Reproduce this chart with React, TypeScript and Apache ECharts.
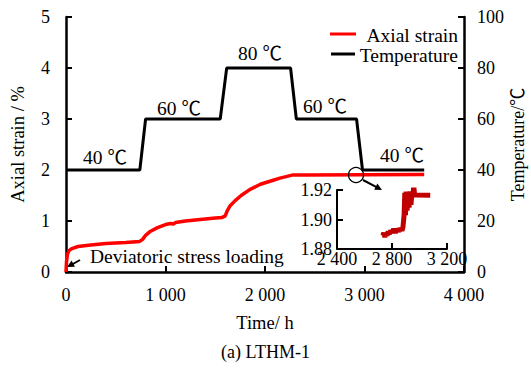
import React, { useEffect, useRef } from "react";
import * as echarts from "echarts";

// ---- data ----
const strainTime = [0, 5, 15, 30, 60, 120, 250, 400, 600, 740, 770, 800, 850, 920, 1000, 1050, 1080, 1100, 1200, 1300, 1400, 1500, 1570, 1600, 1620, 1650, 1700, 1760, 1850, 1954, 2050, 2150, 2273, 2400, 3000, 3600];
const strainValue = [0, 0.2, 0.35, 0.42, 0.46, 0.5, 0.53, 0.56, 0.58, 0.6, 0.64, 0.72, 0.8, 0.87, 0.93, 0.95, 0.94, 0.97, 1.0, 1.02, 1.04, 1.06, 1.07, 1.1, 1.2, 1.3, 1.4, 1.5, 1.62, 1.72, 1.78, 1.84, 1.9, 1.9, 1.905, 1.91];

const tempTime = [0, 742, 800, 1550, 1615, 2257, 2315, 2920, 2980, 3600];
const tempValue = [40, 40, 60, 60, 80, 80, 60, 60, 40, 40];

const insetTime = [2734, 2740, 2748, 2756, 2764, 2772, 2780, 2790, 2800, 2812, 2825, 2838, 2850, 2862, 2873, 2880, 2888, 2893, 2898, 2903, 2910, 2917, 2924, 2931, 2938, 2945, 2952, 2958, 2964, 2975, 3078];
const insetValue = [1.889, 1.891, 1.888, 1.891, 1.889, 1.892, 1.89, 1.8925, 1.891, 1.8935, 1.891, 1.8935, 1.892, 1.894, 1.8925, 1.895, 1.903, 1.918, 1.903, 1.919, 1.906, 1.918, 1.908, 1.919, 1.91, 1.918, 1.915, 1.923, 1.917, 1.9166, 1.9165];

const xTicks = [0, 1000, 2000, 3000, 4000];
const tempAnnotations = ["40 ℃", "60 ℃", "80 ℃", "60 ℃", "40 ℃"];

const FONT = "'Liberation Serif', 'Noto Sans CJK SC', serif";

const fmtThousands = (v: number) => {
  const s = String(Math.round(v));
  return s.length > 3 ? s.slice(0, s.length - 3) + " " + s.slice(-3) : s;
};

const axisCommon = {
  type: "value" as const,
  axisLine: { show: true, onZero: false, lineStyle: { color: "#000", width: 2.5 } },
  axisTick: { show: true, inside: true, length: 6, lineStyle: { color: "#000", width: 2 } },
  splitLine: { show: false },
  axisLabel: { color: "#000", fontSize: 18, fontFamily: FONT },
  nameTextStyle: { color: "#000", fontSize: 18.5, fontFamily: FONT },
  nameMoveOverlap: false,
};

export default function App() {
  const ref = useRef<HTMLDivElement>(null);
  useEffect(() => {
    if (!ref.current) return;
    const chart = echarts.init(ref.current, null, { renderer: "svg" });
    const txt = (text: string, x: number, y: number, size = 19, align = "left") => ({
      type: "text",
      x,
      y,
      style: { text, fill: "#000", fontSize: size, fontFamily: FONT, align, verticalAlign: "middle" },
    });
    const annPos = [
      [83, 157],
      [157, 108],
      [238, 53],
      [303, 106],
      [380, 155],
    ];
    chart.setOption({
      animation: false,
      backgroundColor: "#fff",
      title: {
        text: "(a) LTHM-1",
        left: "center",
        top: 338,
        textStyle: { color: "#000", fontSize: 18, fontWeight: "normal", fontFamily: FONT },
      },
      grid: [
        { left: 66, top: 17, width: 398, height: 255, outerBoundsMode: "none", containLabel: false },
        { left: 337, top: 190, width: 110, height: 59, outerBoundsMode: "none", containLabel: false },
      ],
      xAxis: [
        {
          ...axisCommon,
          gridIndex: 0,
          min: 0,
          max: 4000,
          interval: 1000,
          axisLabel: { ...axisCommon.axisLabel, margin: 14, formatter: (v: number) => (xTicks.includes(v) ? fmtThousands(v) : "") },
          name: "Time/ h",
          nameLocation: "middle",
          nameGap: 42,
        },
        {
          ...axisCommon,
          gridIndex: 1,
          min: 2400,
          max: 3200,
          interval: 400,
          axisLine: { show: true, onZero: false, lineStyle: { color: "#000", width: 2 } },
          axisLabel: { ...axisCommon.axisLabel, margin: 1, formatter: (v: number) => fmtThousands(v) },
        },
      ],
      yAxis: [
        {
          ...axisCommon,
          gridIndex: 0,
          position: "left",
          min: 0,
          max: 5,
          interval: 1,
          axisLabel: { ...axisCommon.axisLabel, margin: 16 },
          name: "Axial strain / %",
          nameLocation: "middle",
          nameGap: 39,
          nameRotate: 90,
        },
        {
          ...axisCommon,
          gridIndex: 0,
          position: "right",
          min: 0,
          max: 100,
          interval: 20,
          axisLabel: { ...axisCommon.axisLabel, margin: 13 },
          name: "Temperature/℃",
          nameLocation: "middle",
          nameGap: 45,
          nameRotate: 90,
          nameTextStyle: { color: "#000", fontSize: 18, fontFamily: FONT },
        },
        {
          ...axisCommon,
          gridIndex: 1,
          min: 1.88,
          max: 1.92,
          interval: 0.02,
          axisLine: { show: true, onZero: false, lineStyle: { color: "#000", width: 2 } },
          axisLabel: { ...axisCommon.axisLabel, margin: 5, formatter: (v: number) => v.toFixed(2) },
        },
      ],
      series: [
        {
          name: "Axial strain",
          type: "line",
          xAxisIndex: 0,
          yAxisIndex: 0,
          data: strainTime.map((t, i) => [t, strainValue[i]]),
          showSymbol: false,
          lineStyle: { color: "#ff0000", width: 3.5 },
          z: 2,
        },
        {
          name: "Temperature",
          type: "line",
          xAxisIndex: 0,
          yAxisIndex: 1,
          data: tempTime.map((t, i) => [t, tempValue[i]]),
          showSymbol: false,
          lineStyle: { color: "#000", width: 3 },
          z: 3,
        },
        {
          name: "Inset",
          type: "line",
          xAxisIndex: 1,
          yAxisIndex: 2,
          data: insetTime.map((t, i) => [t, insetValue[i]]),
          showSymbol: false,
          lineStyle: { color: "#c00000", width: 5 },
          z: 2,
        },
      ],
      graphic: [
        // legend
        { type: "line", shape: { x1: 330, y1: 34, x2: 356, y2: 34 }, style: { stroke: "#ff0000", lineWidth: 3 } },
        txt("Axial strain", 458, 35, 19.5, "right"),
        { type: "line", shape: { x1: 331, y1: 54, x2: 355, y2: 54 }, style: { stroke: "#000", lineWidth: 3 } },
        txt("Temperature", 458, 55, 19.5, "right"),
        // temperature annotations
        ...tempAnnotations.map((a, i) => txt(a, annPos[i][0], annPos[i][1], 19.5)),
        // deviatoric annotation
        txt("Deviatoric stress loading", 90, 256, 19.5),
        { type: "line", shape: { x1: 80, y1: 260, x2: 72, y2: 264.5 }, style: { stroke: "#000", lineWidth: 2 } },
        { type: "polygon", shape: { points: [[67, 267], [74.9, 266.8], [71.6, 260.6]] }, style: { fill: "#000" } },
        // circle + arrow
        { type: "circle", shape: { cx: 356, cy: 175, r: 7.5 }, style: { stroke: "#000", fill: "none", lineWidth: 1.3 }, z: 10 },
        { type: "line", shape: { x1: 363, y1: 180, x2: 377, y2: 187.4 }, style: { stroke: "#000", lineWidth: 2 } },
        { type: "polygon", shape: { points: [[382, 190], [374.2, 189.8], [377.4, 183.6]] }, style: { fill: "#000" } },
      ],
    });
    return () => chart.dispose();
  }, []);
  return <div ref={ref} style={{ position: "fixed", left: 0, top: 0, width: 531, height: 371 }} />;
}
